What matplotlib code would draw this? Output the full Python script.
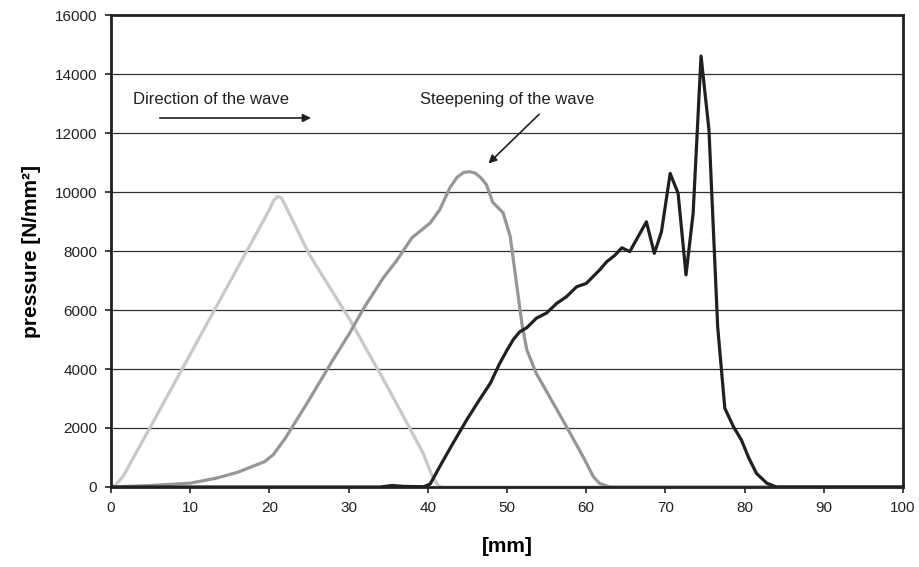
import matplotlib
matplotlib.use("Agg")
import matplotlib.pyplot as plt

plt.rcParams['font.family'] = ['Liberation Sans', 'DejaVu Sans']

# Light grey wave (earliest)
x_light = [0, 0.5, 1.5, 5, 10, 15, 20.0, 20.5, 21.0, 21.5, 22.0, 25, 30.2, 35, 39.4, 40.5, 41.3, 42, 100]
y_light = [0, 50, 350, 2050, 4500, 6950, 9400, 9700, 9850, 9800, 9550, 7900, 5650, 3350, 1150, 400, 50, 0, 0]

# Medium grey wave
x_mid = [0, 5, 10, 13.3, 16, 19.4, 20.5, 22, 25, 28, 30.2, 32, 34.4, 36, 38, 40.3, 41.5, 42.8, 43.7, 44.5, 45.3,
         46.0, 46.7, 47.4, 48.2, 49.5, 50.4, 51.2, 51.9, 52.5, 53.7, 55.5, 57.5, 59.6, 60.9, 61.7, 63, 100]
y_mid = [0, 50, 130, 300, 500, 860, 1100, 1650, 2950, 4300, 5250, 6100, 7100, 7650, 8450, 8950, 9400, 10150,
         10500, 10660, 10690, 10640, 10480, 10250, 9650, 9300, 8500, 6900, 5500, 4650, 3850, 3000, 2050, 1030, 350, 120, 0, 0]

# Black wave (steepened)
x_dark = [0, 34, 35.5, 37, 39.5, 40.3, 41.5, 43, 44.9, 46.5, 47.9, 49, 50, 50.8, 51.6, 52.5, 53.7, 55, 56.3,
          57.5, 58.8, 60, 61.7, 62.6, 63.6, 64.5, 65.5, 67.6, 68.6, 69.5, 70.6, 71.6, 72.6, 73.5, 74.5, 75.5,
          76.6, 77.5, 78.6, 79.6, 80.5, 81.5, 82.8, 84, 100]
y_dark = [0, 0, 50, 20, 10, 100, 690, 1400, 2270, 2950, 3520, 4150, 4640, 5000, 5260, 5400, 5720, 5900, 6230,
          6450, 6790, 6900, 7360, 7640, 7850, 8110, 7980, 8990, 7920, 8650, 10630, 9960, 7190, 9280, 14610, 12100,
          5430, 2670, 2040, 1590, 1000, 460, 130, 0, 0]

x_ticks = list(range(0, 101, 10))
y_ticks = list(range(0, 16001, 2000))

fig = plt.figure(figsize=(9.19, 5.67), dpi=100)
ax = fig.add_axes([0.1208, 0.1411, 0.8618, 0.8324])

for y in y_ticks[1:-1]:
    ax.axhline(y, color='#303030', lw=0.9, zorder=1)

ax.plot(x_light, y_light, color='#c8c8c8', lw=2.3, zorder=3, solid_joinstyle='round')
ax.plot(x_mid, y_mid, color='#969696', lw=2.3, zorder=4, solid_joinstyle='round')
ax.plot(x_dark, y_dark, color='#231f20', lw=2.3, zorder=5, solid_joinstyle='round')

ax.set_xlim(0, 100)
ax.set_ylim(0, 16000)
ax.set_xticks(x_ticks)
ax.set_yticks(y_ticks)
ax.tick_params(direction='out', length=4, width=1.2, labelsize=11, colors='#231f20', pad=6)
for s in ax.spines.values():
    s.set_linewidth(2.0)
    s.set_color('#231f20')
    s.set_zorder(6)

ax.set_xlabel('[mm]', fontsize=15, fontweight='bold', labelpad=16)
ax.set_ylabel('pressure [N/mm²]', fontsize=15, fontweight='bold', labelpad=10)

ax.text(2.8, 13130, 'Direction of the wave', fontsize=12, ha='left', va='center', color='#231f20')
ax.annotate('', xy=(25.6, 12510), xytext=(5.8, 12510),
            arrowprops=dict(arrowstyle='-|>', color='#231f20', lw=1.2, mutation_scale=12))
ax.text(39.0, 13130, 'Steepening of the wave', fontsize=12, ha='left', va='center', color='#231f20')
ax.annotate('', xy=(47.4, 10900), xytext=(54.3, 12700),
            arrowprops=dict(arrowstyle='-|>', color='#231f20', lw=1.2, mutation_scale=12))

fig.savefig('out.png', dpi=100)
